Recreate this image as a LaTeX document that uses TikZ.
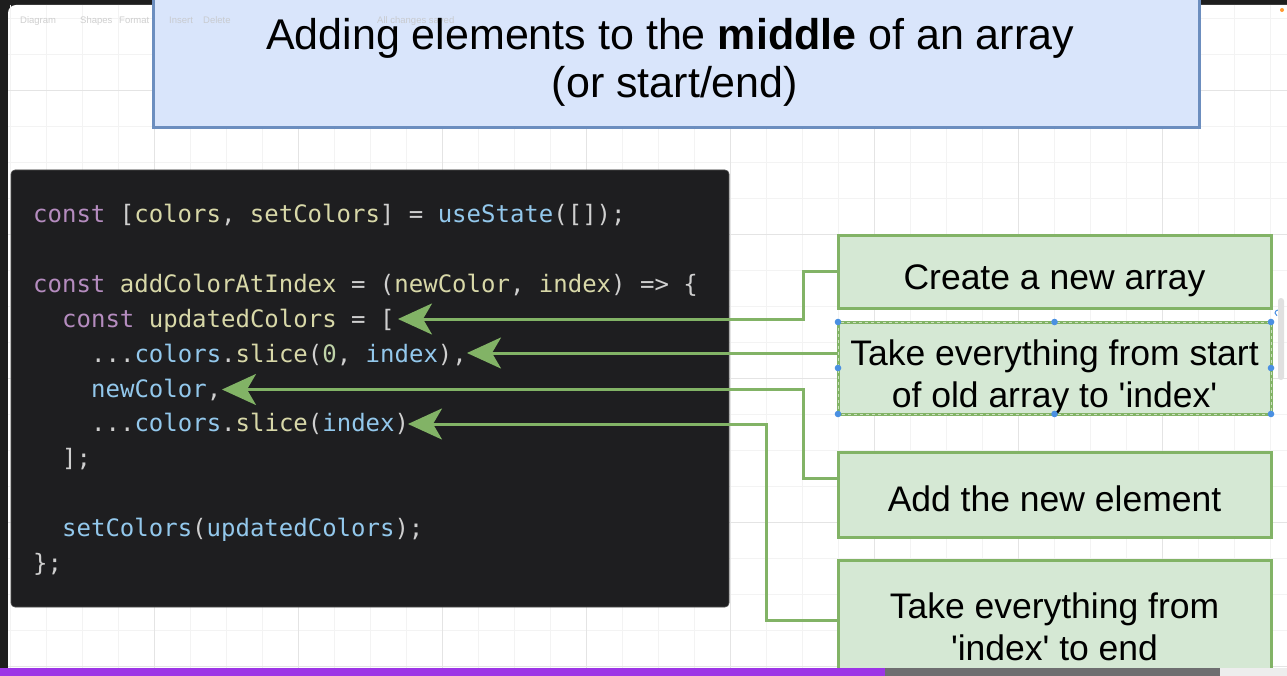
\documentclass[tikz,border=0pt]{standalone}
\usepackage{fontspec}
\setmainfont{Liberation Sans}
\newfontfamily\codefont{DejaVu Sans Mono}
\usetikzlibrary{arrows.meta,calc}
\definecolor{frame}{HTML}{1E1E1E}
\definecolor{gridminor}{HTML}{F3F3F3}
\definecolor{gridmajor}{HTML}{E4E4E4}
\definecolor{tfill}{HTML}{D9E5FB}
\definecolor{tborder}{HTML}{6C8EBF}
\definecolor{gfill}{HTML}{D5E8D4}
\definecolor{gborder}{HTML}{82B366}
\definecolor{codebg}{HTML}{1E1E20}
\definecolor{ckw}{HTML}{B58CBF}
\definecolor{cid}{HTML}{D8D8A8}
\definecolor{cfn}{HTML}{93C8EC}
\definecolor{cpu}{HTML}{CFCFCF}
\definecolor{cnum}{HTML}{BFD3A8}
\definecolor{handle}{HTML}{4A90E2}
\definecolor{barpurple}{HTML}{9D35E6}
\definecolor{bargray}{HTML}{6E6E70}
\definecolor{toolgray}{HTML}{C4C4C4}
\newcommand{\codeKw}[1]{\textcolor{ckw}{#1}}
\newcommand{\codeId}[1]{\textcolor{cid}{#1}}
\newcommand{\codeFn}[1]{\textcolor{cfn}{#1}}
\newcommand{\codePu}[1]{\textcolor{cpu}{#1}}
\newcommand{\codeNum}[1]{\textcolor{cnum}{#1}}
\newcommand{\sq}{\textquotesingle}
\begin{document}
\begin{tikzpicture}[x=1pt,y=-1pt,
  gbox/.style={draw=gborder,fill=gfill,line width=3pt,minimum width=433pt,inner sep=0pt},
  gtext/.style={anchor=base,inner sep=0pt,font=\fontsize{35.5}{42}\selectfont},
  codeline/.style={anchor=base west,inner sep=0pt,font=\codefont\fontsize{24}{28}\selectfont},
  conn/.style={draw=gborder,line width=3pt,-{Stealth[length=34pt,width=31pt,inset=9pt]}},
  tooltext/.style={anchor=base west,inner sep=0pt,text=toolgray,font=\fontsize{9.5}{11}\selectfont},
  minorline/.style={draw=gridminor,line width=0.8pt},
  majorline/.style={draw=gridmajor,line width=0.8pt}]
\useasboundingbox (0,0) rectangle (1287,676);
\clip (0,0) rectangle (1287,676);
% frame and canvas
\fill[frame] (0,0) rectangle (1287,676);
\fill[white,rounded corners=8pt] (8,5) rectangle (1300,690);
% grid
\foreach \x in {10,46,...,1290} \draw[minorline] (\x,5) -- (\x,668);
\foreach \y in {18,54,...,668} \draw[minorline] (8,\y) -- (1287,\y);
\foreach \x in {154,298,...,1290} \draw[majorline] (\x,5) -- (\x,668);
\foreach \y in {90,234,...,668} \draw[majorline] (8,\y) -- (1287,\y);
% title box
\node[draw=tborder,fill=tfill,line width=3pt,minimum width=1046pt,minimum height=133pt,inner sep=0pt] (title) at (676,61.5) {};
% toolbar texts
\begin{scope}[opacity=0.8]
\node[tooltext] (tb1) at (20,24) {Diagram};
\node[tooltext] (tb2) at (80,24) {Shapes};
\node[tooltext] (tb3) at (119,24) {Format};
\node[tooltext] (tb4) at (169,24) {Insert};
\node[tooltext] (tb5) at (203,24) {Delete};
\node[tooltext] (tb6) at (377,24) {All changes saved};
\end{scope}
\node[anchor=base,inner sep=0pt,font=\fontsize{43}{48}\selectfont] (title1) at (670,50) {Adding elements to the \textbf{middle} of an array};
\node[anchor=base,inner sep=0pt,font=\fontsize{43}{48}\selectfont] (title2) at (675,98) {(or start/end)};
% code box
\node[fill=codebg,draw=black!70,line width=0.6pt,rounded corners=4pt,minimum width=718pt,minimum height=437pt,inner sep=0pt] (code) at (370,388.5) {};
\node[codeline] (l1) at (33,223) {\codeKw{const} \codePu{[}\codeId{colors}\codePu{,} \codeId{setColors}\codePu{]} \codePu{=} \codeFn{useState}\codePu{([]);}};
\node[codeline] (l3) at (33,292.6) {\codeKw{const} \codeId{addColorAtIndex} \codePu{= (}\codeId{newColor}\codePu{,} \codeId{index}\codePu{) => \{}};
\node[codeline] (l4) at (62,327.4) {\codeKw{const} \codeId{updatedColors} \codePu{= [}};
\node[codeline] (l5) at (91,362.2) {\codePu{...}\codeFn{colors}\codePu{.}\codeId{slice}\codePu{(}\codeNum{0}\codePu{,} \codeFn{index}\codePu{),}};
\node[codeline] (l6) at (91,397) {\codeFn{newColor}\codePu{,}};
\node[codeline] (l7) at (91,431.8) {\codePu{...}\codeFn{colors}\codePu{.}\codeId{slice}\codePu{(}\codeFn{index}\codePu{)}};
\node[codeline] (l8) at (62,466.6) {\codePu{];}};
\node[codeline] (l10) at (62,536.2) {\codeFn{setColors}\codePu{(}\codeFn{updatedColors}\codePu{);}};
\node[codeline] (l11) at (33,571) {\codePu{\};}};
% green boxes
\node[gbox,minimum height=72pt] (box1) at (1054.5,272) {};
\node[gbox,minimum height=92pt] (box2) at (1054.5,368) {};
\node[gbox,minimum height=85pt] (box3) at (1054.5,494.5) {};
\node[gbox,minimum height=140pt] (box4) at (1054.5,630) {};
\node[gtext] (txt1) at (1054.5,290) {Create a new array};
\node[gtext] (txt2a) at (1054.5,365) {Take everything from start};
\node[gtext] (txt2b) at (1054.5,407) {of old array to \sq index\sq};
\node[gtext] (txt3) at (1054.5,511) {Add the new element};
\node[gtext] (txt4a) at (1054.5,618) {Take everything from};
\node[gtext] (txt4b) at (1054.5,660) {\sq index\sq{} to end};
% selection of box2
\draw[white,opacity=0.6,line width=1pt,dash pattern=on 3pt off 3pt] (838,322) rectangle (1271,414);
\foreach \p in {(838,322),(1054.5,322),(1271,322),(838,368),(1271,368),(838,414),(1054.5,414),(1271,414)}
  \fill[handle] \p circle (3.3pt);
\draw[handle,line width=1pt] (1278,310) arc (90:250:3pt);
% connectors
\coordinate (t1) at (398,319);
\coordinate (t2) at (467,353);
\coordinate (t3) at (222,389.5);
\coordinate (t4) at (408,424);
\coordinate (j1) at (803,319);
\coordinate (j3) at (803,389.5);
\coordinate (j4) at (766,424);
\coordinate (y3) at (0,478);
\coordinate (y4) at (0,620);
\draw[conn] (box1.west) -| (j1) -- (t1);
\draw[conn] (box2.west |- t2) -- (t2);
\draw[conn] (box3.west |- y3) -| (j3) -- (t3);
\draw[conn] (box4.west |- y4) -| (j4) -- (t4);
% scrollbar and status dot
\fill[black!12,rounded corners=3pt] (1278,298) rectangle (1284,380);
\fill[orange!80] (1282,10) circle (2pt);
% bottom progress bar
\fill[barpurple] (0,668) rectangle (885,676);
\fill[bargray] (885,668) rectangle (1220,676);
\fill[black!7] (1220,668) rectangle (1287,676);
\end{tikzpicture}
\end{document}
